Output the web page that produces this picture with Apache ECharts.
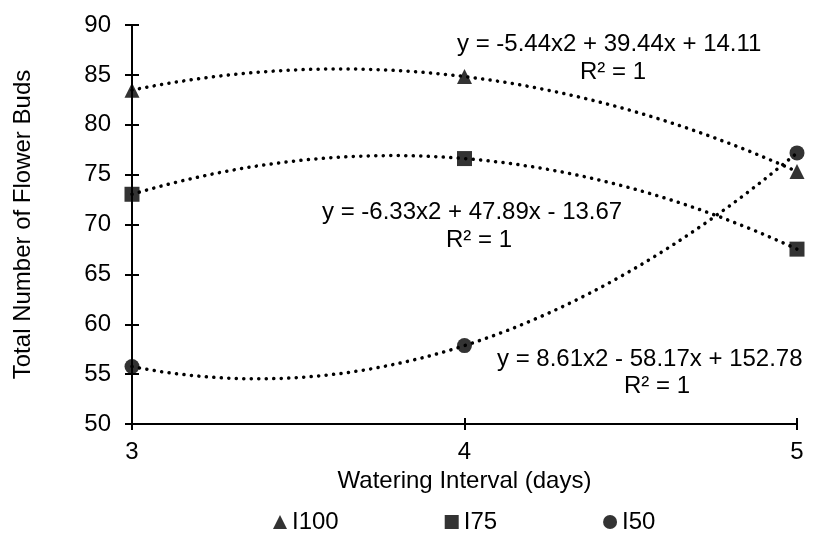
<!DOCTYPE html>
<html><head><meta charset="utf-8">
<script src="https://cdn.jsdelivr.net/npm/echarts@6/dist/echarts.min.js"></script>
<style>html,body{margin:0;padding:0;background:#fff}#c{width:817px;height:536px}</style>
</head><body><div id="c"></div>
<script>
const xValues = [3, 4, 5];
const seriesNames = ['I100', 'I75', 'I50'];
const i100 = [83.47, 84.83, 75.31];
const i75 = [73.03, 76.61, 67.53];
const i50 = [55.76, 57.86, 77.18];
const yTicks = {min: 50, max: 90, interval: 5};
const xTicks = {min: 3, max: 5, interval: 1};
const equations = [
  'y = -5.44x2 + 39.44x + 14.11',
  'y = -6.33x2 + 47.89x - 13.67',
  'y = 8.61x2 - 58.17x + 152.78'
];
const r2Text = 'R² = 1';

const FONT = '"Liberation Sans", Arial, sans-serif';
const FS = 24;
const chart = echarts.init(document.getElementById('c'), null, {renderer: 'canvas'});

function pts(vals) { return xValues.map((x, i) => [x, vals[i]]); }

function trend(vals) {
  return {
    type: 'custom',
    silent: true,
    z: 1,
    renderItem: function (params, api) {
      if (params.dataIndex !== 0) return;
      const p0 = api.coord([xValues[0], vals[0]]);
      const p2 = api.coord([xValues[2], vals[2]]);
      const cy = 2 * vals[1] - (vals[0] + vals[2]) / 2;
      const p1 = api.coord([xValues[1], cy]);
      return {
        type: 'bezierCurve',
        shape: {x1: p0[0], y1: p0[1], x2: p2[0], y2: p2[1], cpx1: p1[0], cpy1: p1[1]},
        style: {stroke: '#000', fill: null, lineWidth: 3.5, lineDash: [0.1, 7.4], lineCap: 'round'}
      };
    },
    data: [[xValues[0], vals[0]]]
  };
}

const symbols = ['triangle', 'rect', 'circle'];
const allVals = [i100, i75, i50];

const eqStyle = {fontFamily: FONT, fontSize: FS, fill: '#000', textAlign: 'center'};

chart.setOption({
  animation: false,
  textStyle: {fontFamily: FONT, color: '#000'},
  grid: {left: 132, right: 20, top: 25, bottom: 112},
  xAxis: [{
    type: 'value', min: xTicks.min, max: xTicks.max, interval: xTicks.interval,
    name: 'Watering Interval (days)', nameLocation: 'middle', nameGap: 44,
    nameTextStyle: {fontFamily: FONT, fontSize: FS, color: '#000'},
    axisLine: {show: true, lineStyle: {color: '#000', width: 2}},
    axisTick: {show: true, length: 6, lineStyle: {color: '#000', width: 2}},
    axisLabel: {fontFamily: FONT, fontSize: FS, color: '#000', margin: 16},
    splitLine: {show: false}
  }, {
    type: 'value', position: 'bottom', min: xTicks.min, max: xTicks.max, interval: xTicks.interval,
    axisLine: {show: false}, axisLabel: {show: false}, splitLine: {show: false},
    axisTick: {show: true, inside: true, length: 6, lineStyle: {color: '#000', width: 2}}
  }],
  yAxis: [{
    type: 'value', min: yTicks.min, max: yTicks.max, interval: yTicks.interval,
    name: 'Total Number of Flower Buds', nameLocation: 'middle', nameGap: 97,
    nameTextStyle: {fontFamily: FONT, fontSize: FS, color: '#000'},
    axisLine: {show: true, lineStyle: {color: '#000', width: 2}},
    axisTick: {show: true, length: 7, lineStyle: {color: '#000', width: 2}},
    axisLabel: {fontFamily: FONT, fontSize: FS, color: '#000', margin: 21},
    splitLine: {show: false}
  }, {
    type: 'value', position: 'left', min: yTicks.min, max: yTicks.max, interval: yTicks.interval,
    axisLine: {show: false}, axisLabel: {show: false}, splitLine: {show: false},
    axisTick: {show: true, inside: true, length: 7, lineStyle: {color: '#000', width: 2}}
  }],
  legend: {
    left: 268, top: 505, itemGap: 106, itemWidth: 14, itemHeight: 14,
    textStyle: {fontFamily: FONT, fontSize: FS, color: '#000'},
    data: seriesNames.map((n, i) => ({name: n, icon: symbols[i]}))
  },
  series: [
    ...allVals.map(v => trend(v)),
    ...allVals.map((v, i) => ({
      type: 'scatter', name: seriesNames[i], symbol: symbols[i], symbolSize: 15,
      itemStyle: {color: '#000'}, z: 3, data: pts(v)
    }))
  ],
  graphic: [
    {type: 'text', left: 457, top: 32, style: Object.assign({}, eqStyle, {text: equations[0]})},
    {type: 'text', left: 580, top: 60, style: Object.assign({}, eqStyle, {text: r2Text})},
    {type: 'text', left: 322, top: 200, style: Object.assign({}, eqStyle, {text: equations[1]})},
    {type: 'text', left: 446, top: 228, style: Object.assign({}, eqStyle, {text: r2Text})},
    {type: 'text', left: 497, top: 347, style: Object.assign({}, eqStyle, {text: equations[2]})},
    {type: 'text', left: 624, top: 374, style: Object.assign({}, eqStyle, {text: r2Text})}
  ]
});
</script></body></html>
